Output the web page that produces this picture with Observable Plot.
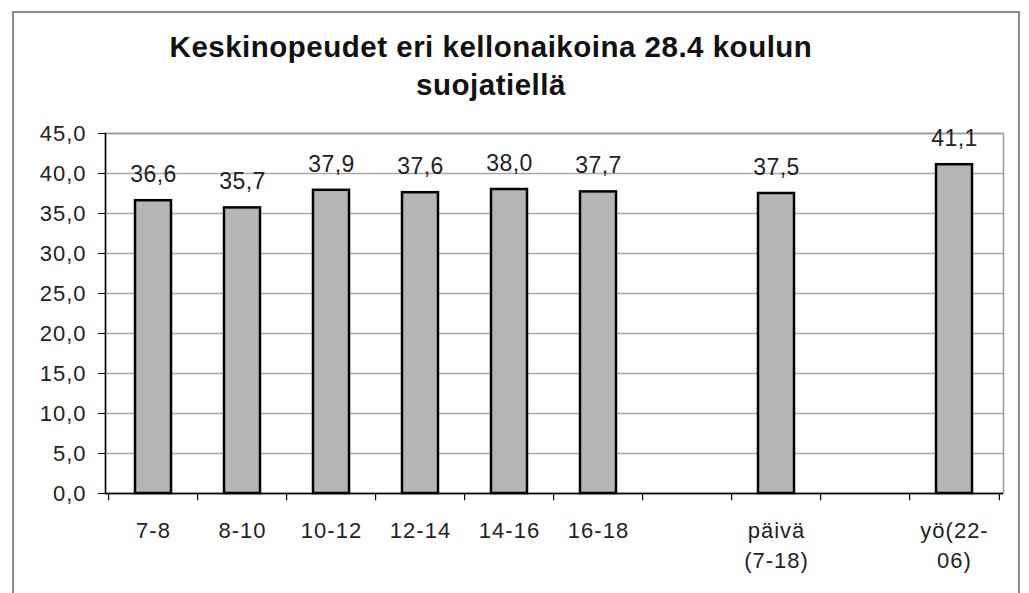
<!DOCTYPE html>
<html>
<head>
<meta charset="utf-8">
<script src="https://cdn.jsdelivr.net/npm/d3@7"></script>
<script src="https://cdn.jsdelivr.net/npm/@observablehq/plot@0.6"></script>
<style>
  html, body { margin: 0; padding: 0; background: #fff; }
  #page { position: relative; width: 1029px; height: 593px; overflow: hidden; background: #fff;
          font-family: "Liberation Sans", Arial, sans-serif; }
  #frame { position: absolute; left: 12px; top: 11px; width: 1008px; height: 640px;
           border: 2px solid #8c8c8c; box-sizing: border-box; }
  #title { position: absolute; left: 0; top: 28px; width: 982px; text-align: center;
           font: bold 29.5px "Liberation Sans", Arial, sans-serif; letter-spacing: 0.5px;
           line-height: 38px; color: #111; }
  #chart { position: absolute; left: 0; top: 110px; }
  #chart svg { color: #222; }
  #chart svg text { letter-spacing: 1px; }
  #chart svg .vals text { letter-spacing: 0.4px; }
</style>
</head>
<body>
<div id="page">
  <div id="frame"></div>
  <div id="title">Keskinopeudet eri kellonaikoina 28.4 koulun<br>suojatiellä</div>
  <div id="chart"></div>
</div>
<script>
// Data
const categories = ["7-8", "8-10", "10-12", "12-14", "14-16", "16-18", "päivä\n(7-18)", "yö(22-\n06)"];
const speeds = [36.6, 35.7, 37.9, 37.6, 38.0, 37.7, 37.5, 41.1];
const xSlots = ["7-8", "8-10", "10-12", "12-14", "14-16", "16-18", "gap1", "päivä\n(7-18)", "gap2", "yö(22-\n06)"];
const yTicks = [0, 5, 10, 15, 20, 25, 30, 35, 40, 45];

const rows = categories.map((c, i) => ({cat: c, v: speeds[i]}));
const fmt = d => d.toFixed(1).replace(".", ",");

const W = 1029, H = 483, ML = 105, MR = 26, MT = 23, MB = 100;
const step = (W - ML - MR) / xSlots.length;

const chart = Plot.plot({
  width: W, height: H,
  marginLeft: ML, marginRight: MR, marginTop: MT, marginBottom: MB,
  style: {fontFamily: "'Liberation Sans', Arial, sans-serif", background: "transparent"},
  x: {domain: xSlots, paddingInner: 0.59, paddingOuter: 0.295, label: null},
  y: {domain: [0, 45], label: null},
  marks: [
    Plot.ruleY(yTicks, {stroke: "#a8a8a8", strokeWidth: 1.5}),
    Plot.frame({stroke: "#999", strokeWidth: 1.5}),
    Plot.barY(rows, {x: "cat", y: "v", fill: "#b5b5b5", stroke: "#000", strokeWidth: 2.5}),
    Plot.text(rows, {x: "cat", y: "v", text: d => fmt(d.v), dy: -26, fontSize: 23, fill: "#222", className: "vals"}),
    Plot.frame({anchor: "left", stroke: "#000", strokeWidth: 1.5}),
    Plot.ruleY([0], {stroke: "#000", strokeWidth: 1.5}),
    Plot.ruleX(xSlots, {x: d => d, dx: -step / 2, y1: 0, y2: -0.9, stroke: "#000", strokeWidth: 1.2}),
    Plot.ruleX(xSlots.slice(-1), {x: d => d, dx: step / 2, y1: 0, y2: -0.9, stroke: "#000", strokeWidth: 1.2}),
    Plot.axisY({ticks: yTicks, tickFormat: fmt, tickSize: 7, tickPadding: 12, fontSize: 22, stroke: "#000"}),
    Plot.axisX({tickSize: 0, tickPadding: 23, fontSize: 22, lineHeight: 1.36,
                tickFormat: d => d.startsWith("gap") ? "" : d})
  ]
});
document.getElementById("chart").appendChild(chart);
</script>
</body>
</html>
